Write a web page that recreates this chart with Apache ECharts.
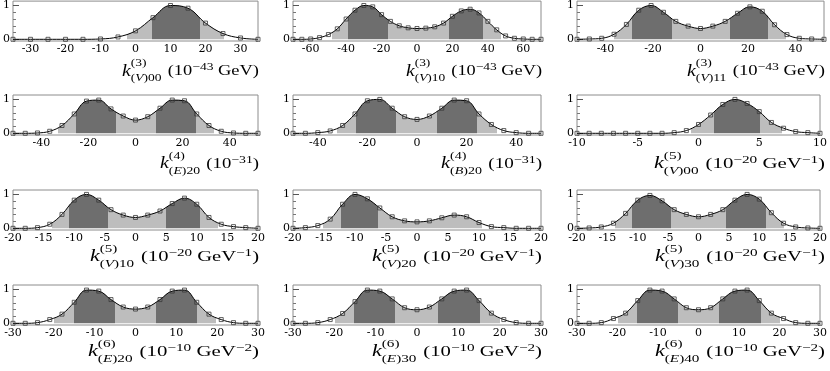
<!DOCTYPE html>
<html><head><meta charset="utf-8">
<script src="https://cdn.jsdelivr.net/npm/echarts@6/dist/echarts.min.js"></script>
<style>html,body{margin:0;padding:0;background:#fff}#c{width:830px;height:371px}</style>
</head><body><div id="c"></div>
<script>
// ---- data ----
const x1 = [-35,-30,-25,-20,-15,-10,-5,0,5,10,15,20,25,30,35];
const y1 = [0,0,0,0,0,0.01,0.07,0.25,0.64,1.0,0.92,0.48,0.17,0.04,0.0];
const x2 = [-70,-65,-60,-55,-50,-45,-40,-35,-30,-25,-20,-15,-10,-5,0,5,10,15,20,25,30,35,40,45,50,55,60,65,70];
const y2 = [0,0,0.01,0.05,0.14,0.31,0.6,0.86,1.0,0.96,0.73,0.53,0.4,0.34,0.32,0.33,0.37,0.48,0.68,0.84,0.89,0.78,0.53,0.28,0.1,0.03,0.01,0,0];
const x3 = [-52,-46.8,-41.6,-36.4,-31.2,-26,-20.8,-15.6,-10.4,-5.2,0,5.2,10.4,15.6,20.8,26,31.2,36.4,41.6,46.8,52];
const y3 = [0,0.01,0.03,0.15,0.44,0.86,1.0,0.8,0.53,0.39,0.32,0.39,0.53,0.77,0.96,0.83,0.43,0.14,0.03,0.01,0];
const x4 = [-52,-46.8,-41.6,-36.4,-31.2,-26,-20.8,-15.6,-10.4,-5.2,0,5.2,10.4,15.6,20.8,26,31.2,36.4,41.6,46.8,52];
const y4 = [0,0,0.01,0.06,0.23,0.57,0.95,0.98,0.72,0.51,0.39,0.49,0.74,0.98,0.96,0.57,0.23,0.06,0.01,0,0];
const x5 = [-50,-45,-40,-35,-30,-25,-20,-15,-10,-5,0,5,10,15,20,25,30,35,40,45,50];
const y5 = [0,0,0.02,0.07,0.23,0.57,0.96,1.0,0.74,0.49,0.41,0.51,0.74,0.98,0.96,0.57,0.26,0.08,0.02,0,0];
const x6 = [-10,-9,-8,-7,-6,-5,-4,-3,-2,-1,0,1,2,3,4,5,6,7,8,9,10];
const y6 = [0,0,0,0,0,0,0,0,0.02,0.08,0.26,0.54,0.85,1.0,0.88,0.64,0.32,0.15,0.05,0.02,0];
const x7 = [-20,-18,-16,-14,-12,-10,-8,-6,-4,-2,0,2,4,6,8,10,12,14,16,18,20];
const y7 = [0,0,0.02,0.12,0.41,0.83,1.0,0.83,0.55,0.39,0.32,0.39,0.51,0.73,0.89,0.71,0.32,0.12,0.05,0.02,0];
const x8 = [-20,-18,-16,-14,-12,-10,-8,-6,-4,-2,0,2,4,6,8,10,12,14,16,18,20];
const y8 = [0,0.02,0.08,0.27,0.71,1.0,0.87,0.6,0.34,0.22,0.19,0.22,0.31,0.39,0.34,0.17,0.05,0.02,0,0,0];
const x9 = [-20,-18,-16,-14,-12,-10,-8,-6,-4,-2,0,2,4,6,8,10,12,14,16,18,20];
const y9 = [0,0.01,0.04,0.15,0.44,0.83,0.97,0.81,0.55,0.41,0.34,0.41,0.55,0.83,1.0,0.86,0.46,0.15,0.04,0.01,0];
const x10 = [-30,-27,-24,-21,-18,-15,-12,-9,-6,-3,0,3,6,9,12,15,18,21,24,27,30];
const y10 = [0,0,0.02,0.11,0.27,0.62,0.98,0.95,0.7,0.48,0.42,0.48,0.7,0.95,0.98,0.62,0.27,0.11,0.02,0,0];
const x11 = [-30,-27,-24,-21,-18,-15,-12,-9,-6,-3,0,3,6,9,12,15,18,21,24,27,30];
const y11 = [0,0,0.02,0.11,0.29,0.64,0.98,0.95,0.72,0.46,0.4,0.48,0.72,0.95,0.98,0.67,0.3,0.11,0.02,0,0];
const x12 = [-30,-27,-24,-21,-18,-15,-12,-9,-6,-3,0,3,6,9,12,15,18,21,24,27,30];
const y12 = [0,0,0.02,0.14,0.3,0.67,0.98,0.95,0.72,0.46,0.4,0.46,0.72,0.95,0.98,0.67,0.3,0.14,0.02,0,0];

// shaded-interval boundaries (light / dark / light ...)
const s1 = [-2.3, 4.7, 18.5, 25.3];
const s2 = [-48, -38.7, -16.2, 17.9, 37.2, 47.5];
const s3 = [-36.3, -28.9, -11.9, 12.6, 28.6, 36];
const s4 = [-33, -25.1, -8.4, 8.7, 25.6, 33.5];
const s5 = [-32.4, -24.6, -8.4, 8.1, 24.3, 32.2];
const s6 = [-0.6, 1.3, 5.1, 6.85];
const s7 = [-13.6, -10.9, -4.5, 5.05, 10.5, 13.4];
const s8 = [-15.1, -12.2, -6.3, 10.5];
const s9 = [-13.8, -11.0, -4.6, 4.6, 11.1, 14.1];
const s10 = [-19.9, -15, -5, 5.1, 15, 19.8];
const s11 = [-19.8, -15.2, -5.3, 5.1, 15.2, 20];
const s12 = [-19.8, -15.1, -5.1, 5.1, 15.4, 20];

// axis ranges and tick labels
const xMin = [-35,-70,-52,-52,-50,-10,-20,-20,-20,-30,-30,-30];
const xMax = [35,70,52,52,50,10,20,20,20,30,30,30];
const t1 = [-30,-20,-10,0,10,20,30];
const t2 = [-60,-40,-20,0,20,40,60];
const t3 = [-40,-20,0,20,40];
const t6 = [-10,-5,0,5,10];
const t7 = [-20,-15,-10,-5,0,5,10,15,20];
const t10 = [-30,-20,-10,0,10,20,30];
const yTicks = [0,1];
const yMinor = [0.2,0.4,0.6,0.8];

// axis names
const nameOrder = ['3','3','3','4','4','5','5','5','5','6','6','6'];
const nameField = ['V','V','V','E','B','V','V','V','V','E','E','E'];
const nameIndex = ['00','10','11','20','20','00','10','20','30','20','30','40'];
const unitExp = ['−43','−43','−43','−31','−31','−20','−20','−20','−20','−10','−10','−10'];
const unitTail = ['GeV','GeV','GeV','','','GeV','GeV','GeV','GeV','GeV','GeV','GeV'];
const unitTailExp = ['','','','','','−1','−1','−1','−1','−2','−2','−2'];

// ---- layout ----
const FONT = 'Liberation Serif';
const TICKFONT = 'DejaVu Serif';
const LIGHT = '#bdbdbd', DARK = '#6e6e6e';
const plotLeft = [11, 293, 577], plotW = [247, 248, 247];
const plotTop = [1, 95, 190, 285], plotH = 40;
const nameTop = [61.5, 154, 247, 342];
const nameLeft = [122, 406, 687, 160, 441, 654, 90, 372, 655, 88, 372, 655];

const xs = [x1,x2,x3,x4,x5,x6,x7,x8,x9,x10,x11,x12];
const ys = [y1,y2,y3,y4,y5,y6,y7,y8,y9,y10,y11,y12];
const ss = [s1,s2,s3,s4,s5,s6,s7,s8,s9,s10,s11,s12];
const ts = [t1,t2,t3,t3,t3,t6,t7,t7,t7,t10,t10,t10];

const rich = {
  kh: {align: 'left', fontFamily: FONT, fontStyle: 'italic', fontSize: 16, fill: 'rgba(0,0,0,0)', lineHeight: 4},
  sp: {align: 'left', fontFamily: FONT, fontSize: 11, fill: '#000', lineHeight: 4},
  k: {align: 'left', fontFamily: FONT, fontStyle: 'italic', fontSize: 16, fill: '#000', lineHeight: 12},
  sb: {align: 'left', fontFamily: FONT, fontSize: 11, fill: '#000', lineHeight: 12, padding: [14,0,0,0]},
  sbi: {align: 'left', fontFamily: FONT, fontStyle: 'italic', fontSize: 11, fill: '#000', lineHeight: 12, padding: [14,0,0,0]},
  g: {align: 'left', fontFamily: FONT, fontSize: 15, width: 5, fill: '#000', lineHeight: 12},
  u: {align: 'left', fontFamily: FONT, fontSize: 15, fill: '#000', lineHeight: 12},
  us: {align: 'left', fontFamily: FONT, fontSize: 11, fill: '#000', lineHeight: 12, padding: [0,0,8,0]}
};
const mctx = document.createElement('canvas').getContext('2d');
function tokWidth(style, text) {
  if (style === 'g') return rich.g.width;
  const st = rich[style];
  mctx.font = `${st.fontStyle || 'normal'} normal ${st.fontSize}px ${st.fontFamily}`;
  return mctx.measureText(text).width;
}

const grid=[], xAxis=[], yAxis=[], series=[], visualMap=[], graphic=[];
for (let i = 0; i < 12; i++) {
  const r = Math.floor(i/3), c = i%3;
  const data = xs[i].map((v, j) => [v, ys[i][j]]);
  grid.push({left: plotLeft[c], top: plotTop[r], width: plotW[c], height: plotH, show: true,
    borderColor: '#8c8c8c', borderWidth: 1, backgroundColor: 'rgba(0,0,0,0)'});
  xAxis.push({type: 'value', gridIndex: i, min: xMin[i], max: xMax[i],
    axisLine: {show: false, onZero: false}, axisTick: {show: false}, splitLine: {show: false},
    axisLabel: {customValues: ts[i], margin: 3, fontFamily: TICKFONT, fontSize: 11, color: '#000'}});
  yAxis.push({type: 'value', gridIndex: i, min: -0.05, max: 1.13, position: 'left',
    axisLine: {show: false, onZero: false}, splitLine: {show: false},
    axisTick: {show: true, inside: true, length: 6, customValues: yTicks, lineStyle: {color: '#555'}},
    axisLabel: {customValues: yTicks, margin: 3, fontFamily: TICKFONT, fontSize: 11, color: '#000'}});
  yAxis.push({type: 'value', gridIndex: i, min: -0.05, max: 1.13, position: 'left',
    axisLine: {show: false, onZero: false}, splitLine: {show: false},
    axisTick: {show: true, inside: true, length: 3, customValues: yMinor, lineStyle: {color: '#777'}},
    axisLabel: {show: false}});
  series.push({type: 'line', xAxisIndex: i, yAxisIndex: 2*i, data: data, smooth: 0.4,
    showSymbol: false, lineStyle: {width: 0, opacity: 0}, areaStyle: {opacity: 1},
    silent: true, z: 1, animation: false});
  series.push({type: 'line', xAxisIndex: i, yAxisIndex: 2*i, data: data, smooth: 0.4,
    symbol: 'rect', symbolSize: 4, showAllSymbol: true,
    itemStyle: {color: 'rgba(0,0,0,0)', borderColor: '#3a3a3a', borderWidth: 0.8},
    lineStyle: {color: '#000', width: 1}, z: 3, animation: false, silent: true});
  const b = ss[i], pieces = [];
  for (let k = 0; k < b.length - 1; k++) pieces.push({gte: b[k], lt: b[k+1], color: k % 2 === 0 ? LIGHT : DARK});
  visualMap.push({type: 'piecewise', show: false, seriesIndex: 2*i, dimension: 0, pieces: pieces,
    outOfRange: {color: 'rgba(255,255,255,0)'}});

  // axis name: k^{(n)}_{(F)ij} (10^{e} GeV^{p})
  const toks = [['k','k'],['sb','('],['sbi',nameField[i]],['sb',')' + nameIndex[i]],['g',' '],['u','(10'],['us',unitExp[i]]];
  if (unitTail[i]) { toks.push(['u',' ' + unitTail[i]]); if (unitTailExp[i]) toks.push(['us', unitTailExp[i]]); }
  toks.push(['u',')']);
  let w = 0; toks.forEach(t => { w += tokWidth(t[0], t[1]); });
  const line2 = toks.map(t => `{${t[0]}|${t[1]}}`).join('');
  const right = plotLeft[c] + plotW[c] + 1;
  graphic.push({type: 'text', x: right, y: nameTop[r], scaleX: (right - nameLeft[i]) / w, silent: true, z: 10,
    style: {text: `{kh|k}{sp|(${nameOrder[i]})}\n` + line2, rich: rich, align: 'right', verticalAlign: 'top'}});
}

const chart = echarts.init(document.getElementById('c'), null, {renderer: 'canvas'});
chart.setOption({animation: false, grid, xAxis, yAxis, series, visualMap, graphic});
</script></body></html>
